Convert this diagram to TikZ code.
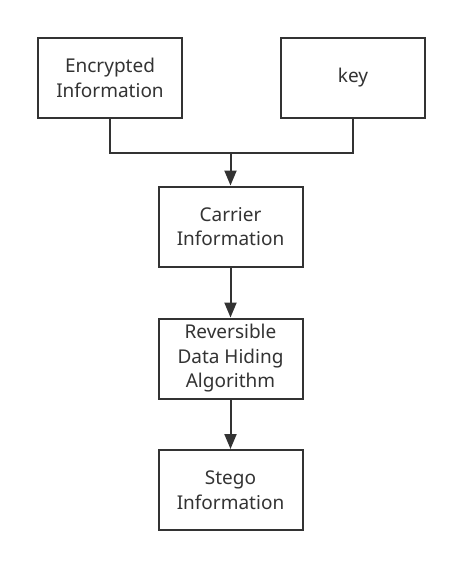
\documentclass[tikz,border=0pt]{standalone}
\usepackage{fontspec}
\setmainfont{Noto Sans}
\usetikzlibrary{arrows.meta}
\definecolor{ln}{HTML}{333333}
\definecolor{tx}{HTML}{333333}
\begin{document}
\begin{tikzpicture}[x=1pt,y=-1pt,
  box/.style={draw=ln,line width=2pt,minimum width=144pt,minimum height=80pt,align=center,inner sep=0pt,font=\fontsize{19}{24.5}\selectfont,text=tx},
  conn/.style={draw=ln,line width=2pt},
  arr/.style={conn,-{Triangle[length=15pt,width=12pt]}}]
\useasboundingbox (0,0) rectangle (462,568);
\fill[white] (0,0) rectangle (462,568);
\node[box] (enc) at (110,78) {Encrypted\\Information};
\node[box] (key) at (353,78) {key};
\node[box] (car) at (230.5,226.5) {Carrier\\Information};
\node[box] (rdh) at (230.5,358.5) {Reversible\\Data Hiding\\Algorithm};
\node[box] (ste) at (230.5,490) {Stego\\Information};
\coordinate (j) at (230.5,153);
\draw[conn] (enc.south) |- (j) -| (key.south);
\draw[arr] (j) -- (car.north);
\draw[arr] (car.south) -- (rdh.north);
\draw[arr] (rdh.south) -- (ste.north);
\end{tikzpicture}
\end{document}
